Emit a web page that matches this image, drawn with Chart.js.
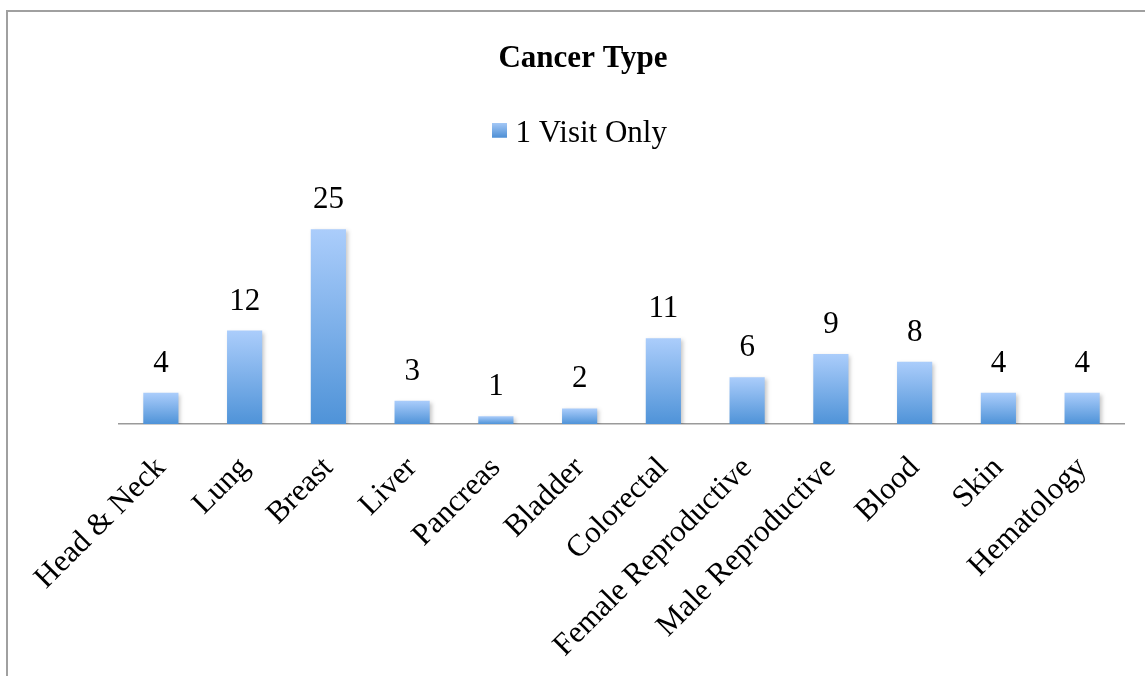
<!DOCTYPE html>
<html>
<head>
<meta charset="utf-8">
<script src="https://cdn.jsdelivr.net/npm/chart.js@4.4.0/dist/chart.umd.min.js"></script>
<style>
  html, body { margin: 0; padding: 0; background: #ffffff; }
  #wrap { position: relative; width: 1145px; height: 676px; }
</style>
</head>
<body>
<div id="wrap"><canvas id="c" width="1145" height="676"></canvas></div>
<script>
const chartTitle = 'Cancer Type';
const seriesName = '1 Visit Only';
const categories = ['Head & Neck', 'Lung', 'Breast', 'Liver', 'Pancreas', 'Bladder', 'Colorectal', 'Female Reproductive', 'Male Reproductive', 'Blood', 'Skin', 'Hematology'];
const visitValues = [4, 12, 25, 3, 1, 2, 11, 6, 9, 8, 4, 4];

const FONT = '"Liberation Serif", "Times New Roman", serif';
const TOP_COLOR = '#abcdfb';
const BOTTOM_COLOR = '#4f93d8';

// legend swatch (square sits at the top of a taller transparent canvas)
const swatch = document.createElement('canvas');
swatch.width = 15; swatch.height = 22;
(function () {
  const g = swatch.getContext('2d');
  const gr = g.createLinearGradient(0, 0, 0, 15);
  gr.addColorStop(0, '#a6c9f7');
  gr.addColorStop(1, '#4d8fd5');
  g.fillStyle = gr;
  g.fillRect(0, 0, 15, 15);
})();

function barGradient(ctx) {
  const chart = ctx.chart;
  const area = chart.chartArea;
  if (!area || ctx.type !== 'data') return BOTTOM_COLOR;
  const y = chart.scales.y;
  const top = y.getPixelForValue(ctx.parsed.y);
  const base = y.getPixelForValue(0);
  if (!isFinite(top) || !isFinite(base) || top === base) return BOTTOM_COLOR;
  const gr = chart.ctx.createLinearGradient(0, top, 0, base);
  gr.addColorStop(0, TOP_COLOR);
  gr.addColorStop(1, BOTTOM_COLOR);
  return gr;
}

const framePlugin = {
  id: 'frame',
  beforeDraw(chart) {
    const c = chart.ctx;
    c.save();
    c.fillStyle = '#ffffff';
    c.fillRect(0, 0, chart.width, chart.height);
    c.strokeStyle = '#a0a0a0';
    c.lineWidth = 2;
    c.beginPath();
    c.moveTo(7, chart.height + 5);
    c.lineTo(7, 11);
    c.lineTo(chart.width + 5, 11);
    c.stroke();
    c.restore();
  }
};

const shadowPlugin = {
  id: 'barShadow',
  beforeDatasetsDraw(chart) {
    const c = chart.ctx;
    c.save();
    c.shadowColor = 'rgba(0,0,0,0.22)';
    c.shadowBlur = 4;
    c.shadowOffsetX = 2;
    c.shadowOffsetY = 2;
  },
  afterDatasetsDraw(chart) {
    chart.ctx.restore();
  }
};

const valueLabels = {
  id: 'valueLabels',
  afterDatasetsDraw(chart) {
    const c = chart.ctx;
    c.save();
    c.font = '31px ' + FONT;
    c.fillStyle = '#000000';
    c.textAlign = 'center';
    c.textBaseline = 'alphabetic';
    chart.getDatasetMeta(0).data.forEach((bar, i) => {
      c.fillText(String(chart.data.datasets[0].data[i]), bar.x, bar.y - 21);
    });
    c.restore();
  }
};

new Chart(document.getElementById('c'), {
  type: 'bar',
  data: {
    labels: categories,
    datasets: [{
      label: seriesName,
      data: visitValues,
      backgroundColor: barGradient,
      borderWidth: 0,
      barPercentage: 0.42,
      categoryPercentage: 1.0
    }]
  },
  options: {
    responsive: false,
    animation: false,
    devicePixelRatio: 1,
    layout: { padding: { left: 42, right: 21, top: 0, bottom: 0 } },
    plugins: {
      title: {
        display: true,
        text: chartTitle,
        color: '#000000',
        font: { family: FONT, size: 31, weight: 'bold' },
        padding: { top: 40, bottom: 31 }
      },
      legend: {
        display: true,
        position: 'top',
        labels: {
          color: '#000000',
          font: { family: FONT, size: 31 },
          usePointStyle: true,
          pointStyle: swatch,
          boxWidth: 1,
          padding: 10
        }
      },
      tooltip: { enabled: false }
    },
    scales: {
      x: {
        offset: true,
        grid: { display: false, drawTicks: false },
        border: { display: true, color: '#9a9a9a', width: 1.5 },
        ticks: {
          color: '#000000',
          font: { family: FONT, size: 31 },
          minRotation: 45,
          maxRotation: 45,
          autoSkip: false,
          padding: 26
        },
        afterFit(s) {
          s.height = 252;
          s.paddingLeft = 0;
          s.paddingRight = 0;
        }
      },
      y: {
        min: 0,
        max: 34,
        grid: { display: false },
        border: { display: false },
        ticks: { display: false },
        afterFit(s) { s.width = 77; }
      }
    }
  },
  plugins: [framePlugin, shadowPlugin, valueLabels]
});
</script>
</body>
</html>
